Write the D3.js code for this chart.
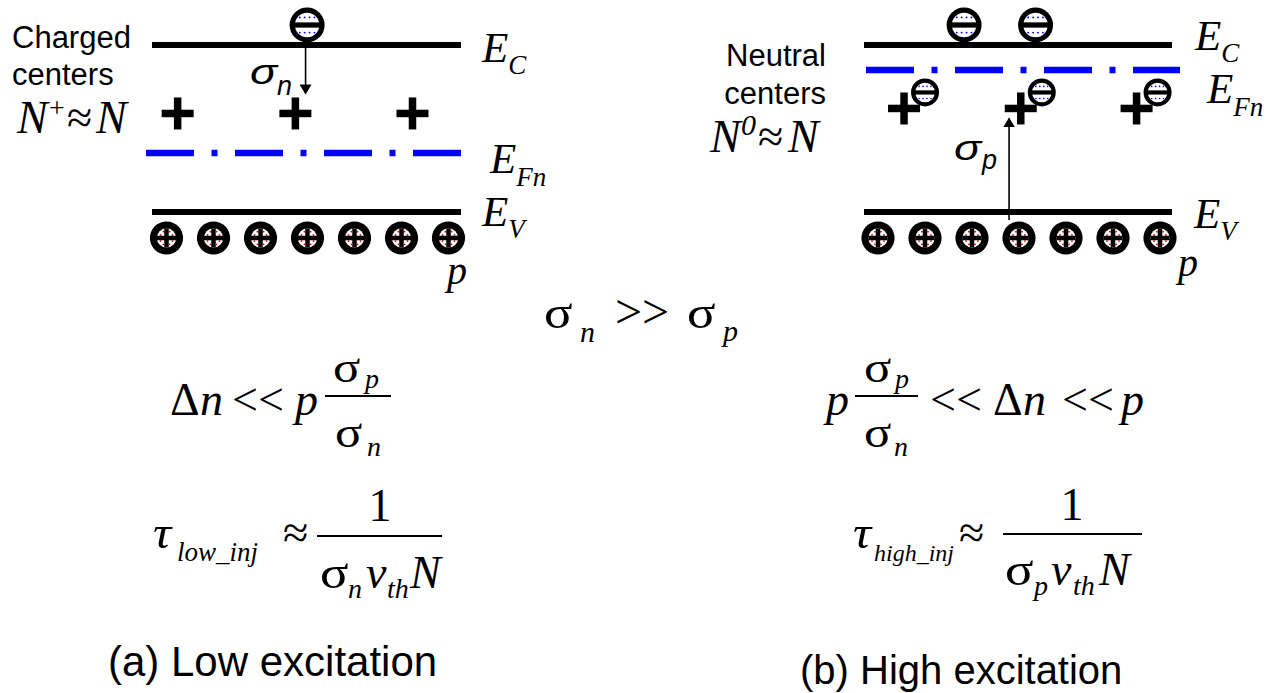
<!DOCTYPE html>
<html>
<head>
<meta charset="utf-8">
<script src="https://cdn.jsdelivr.net/npm/d3@7"></script>
<style>
  html, body { margin: 0; padding: 0; background: #fff; }
  svg { display: block; }
</style>
</head>
<body>
<svg id="fig" width="1279" height="693"></svg>
<script>
// ---- band-diagram values (energies in units of the gap: E_V = 0, E_C = 1) ----
const panelIds = ["a", "b"];
const conductionEnergy = [1, 1];
const valenceEnergy = [0, 0];
const quasiFermiEnergy = [0.353, 0.85];
const trapEnergy = [0.59, 0.62];
// positions along the band (0 = left end, 1 = right end)
const trapSites = [[0.083, 0.464, 0.843], [0.13, 0.509, 0.885]];
const freeElectronSites = [[0.502], [0.325, 0.557]];
const holeSites = [0, 1, 2, 3, 4, 5, 6];
const trapsFilled = [false, true];
const captureArrowSite = [0.497, 0.471];
const captureCarrier = ["n", "p"];
const centerLabel = [["Charged", "centers"], ["Neutral", "centers"]];
const centerOccupancy = ["+", "0"];
const captions = ["(a) Low excitation", "(b) High excitation"];

// ---- page layout ----
const SERIF = "'Liberation Serif', 'Times New Roman', serif";
const SANS = "'Liberation Sans', Arial, sans-serif";
const BLUE = "#0000ff";
const layout = [
  { band: [152, 461], fermi: [146, 461], yScale: [212, 45],
    holeInset: [14.5, 12.5],
    ecLabel: [482, 17], efLabel: [490, 20], evLabel: [482, 14], pLabel: [447, 72] },
  { band: [864, 1172], fermi: [866, 1180], yScale: [212, 45],
    holeInset: [14, 12],
    ecLabel: [1195, 5], efLabel: [1207, 33], evLabel: [1194, 16], pLabel: [1178, 64] }
];

const svg = d3.select("#fig");
svg.append("rect").attr("width", 1279).attr("height", 693).attr("fill", "#fff");

// ---- glyph helpers ----
function electron(g, cx, cy, r) {
  const ring = r * 0.3;
  const e = g.append("g").attr("transform", `translate(${cx},${cy})`);
  e.append("circle").attr("r", r - ring / 2).attr("fill", "#fff")
    .attr("stroke", "#000").attr("stroke-width", ring);
  const inner = r - ring;
  [-1, 1].forEach(sy => {
    [-0.6, -0.2, 0.2, 0.6].forEach(fx => {
      e.append("circle").attr("cx", fx * inner).attr("cy", sy * inner * 0.62)
        .attr("r", Math.max(0.8, r * 0.055)).attr("fill", BLUE);
    });
  });
  e.append("rect").attr("x", -inner - 0.5).attr("width", 2 * inner + 1)
    .attr("y", -ring / 2).attr("height", ring).attr("fill", "#000");
}

function hole(g, cx, cy, r) {
  const h = g.append("g").attr("transform", `translate(${cx},${cy})`);
  h.append("circle").attr("r", r).attr("fill", "#000");
  const inner = r * 0.58;
  h.append("circle").attr("r", inner).attr("fill", "#fff");
  [[-1, -1], [1, -1], [-1, 1], [1, 1]].forEach(([sx, sy]) => {
    h.append("circle").attr("cx", sx * inner * 0.62).attr("cy", sy * inner * 0.32)
      .attr("r", 0.9).attr("fill", "#e00000");
    h.append("circle").attr("cx", sx * inner * 0.32).attr("cy", sy * inner * 0.66)
      .attr("r", 0.9).attr("fill", "#e00000");
  });
  const bar = r * 0.27;
  h.append("rect").attr("x", -inner).attr("width", 2 * inner)
    .attr("y", -bar / 2).attr("height", bar).attr("fill", "#000");
  h.append("rect").attr("y", -inner).attr("height", 2 * inner)
    .attr("x", -bar / 2).attr("width", bar).attr("fill", "#000");
}

function plus(g, cx, cy, size, w) {
  g.append("rect").attr("x", cx - size / 2).attr("y", cy - w / 2)
    .attr("width", size).attr("height", w).attr("fill", "#000");
  g.append("rect").attr("x", cx - w / 2).attr("y", cy - size / 2)
    .attr("width", w).attr("height", size).attr("fill", "#000");
}

function txt(g, x, y, s, size, opts = {}) {
  return g.append("text").attr("x", x).attr("y", y).text(s)
    .attr("font-family", opts.family || SERIF)
    .attr("font-size", size)
    .attr("font-style", opts.italic ? "italic" : "normal")
    .attr("text-anchor", opts.anchor || "start")
    .attr("fill", "#000");
}

// Greek letter drawn a little wider, as in a symbol font, with an optional subscript
function greek(g, x, y, ch, size, sub, subSize, subDx, subDy, opts = {}) {
  g.append("text").attr("transform", `translate(${x},${y}) scale(${opts.sx || 1.15},1)`)
    .attr("font-family", opts.family || SERIF).attr("font-size", size)
    .attr("font-style", opts.italic ? "italic" : "normal").attr("fill", "#000").text(ch);
  if (sub) {
    txt(g, x + subDx, y + subDy, sub, subSize, { italic: true, family: opts.family });
  }
}

// arrow marker
const defs = svg.append("defs");
defs.append("marker").attr("id", "head")
  .attr("viewBox", "0 0 10 12").attr("refX", 9).attr("refY", 6)
  .attr("markerWidth", 10).attr("markerHeight", 12)
  .attr("markerUnits", "userSpaceOnUse").attr("orient", "auto")
  .append("path").attr("d", "M0,0 L10,6 L0,12 Z").attr("fill", "#000");

// ---- band diagrams ----
panelIds.forEach((id, i) => {
  const L = layout[i];
  const g = svg.append("g").attr("class", "panel-" + id);
  const x = d3.scaleLinear().domain([0, 1]).range(L.band);
  const y = d3.scaleLinear().domain([0, 1]).range(L.yScale);
  const xh = d3.scalePoint().domain(holeSites)
    .range([L.band[0] + L.holeInset[0], L.band[1] - L.holeInset[1]]);

  // conduction and valence band edges
  [conductionEnergy[i], valenceEnergy[i]].forEach(E => {
    g.append("line").attr("x1", x(0)).attr("x2", x(1))
      .attr("y1", y(E)).attr("y2", y(E))
      .attr("stroke", "#000").attr("stroke-width", 6);
  });

  // electron quasi-Fermi level
  g.append("line").attr("x1", L.fermi[0]).attr("x2", L.fermi[1])
    .attr("y1", y(quasiFermiEnergy[i])).attr("y2", y(quasiFermiEnergy[i]))
    .attr("stroke", BLUE).attr("stroke-width", 6.5)
    .attr("stroke-dasharray", "48,17.5,6,17.5");

  // capture arrow
  const yTrap = y(trapEnergy[i]);
  const ax = x(captureArrowSite[i]);
  if (captureCarrier[i] === "n") {
    g.append("line").attr("x1", ax).attr("x2", ax)
      .attr("y1", y(conductionEnergy[i]) + 3).attr("y2", yTrap - 20)
      .attr("stroke", "#000").attr("stroke-width", 1.6).attr("marker-end", "url(#head)");
  } else {
    g.append("line").attr("x1", ax).attr("x2", ax)
      .attr("y1", y(valenceEnergy[i]) + 8).attr("y2", yTrap + 10)
      .attr("stroke", "#000").attr("stroke-width", 1.6).attr("marker-end", "url(#head)");
  }

  // holes in the valence band
  holeSites.forEach(k => hole(g, xh(k), y(valenceEnergy[i]) + 26, 16.6));

  // recombination centres, with captured electrons when filled
  trapSites[i].forEach(s => {
    plus(g, x(s), yTrap, 32, 7.5);
    if (trapsFilled[i]) electron(g, x(s) + 21, yTrap - 16, 14);
  });

  // free electrons in the conduction band
  freeElectronSites[i].forEach(s => electron(g, x(s), y(conductionEnergy[i]) - 20, 17.5));

  // level labels
  const ec = txt(g, L.ecLabel[0], y(conductionEnergy[i]) + L.ecLabel[1], "E", 43, { italic: true });
  ec.append("tspan").attr("font-size", 27).attr("dy", 12).text("C");
  const ef = txt(g, L.efLabel[0], y(quasiFermiEnergy[i]) + L.efLabel[1], "E", 43, { italic: true });
  ef.append("tspan").attr("font-size", 27).attr("dy", 13).text("Fn");
  const ev = txt(g, L.evLabel[0], y(valenceEnergy[i]) + L.evLabel[1], "E", 43, { italic: true });
  ev.append("tspan").attr("font-size", 27).attr("dy", 12).text("V");
  txt(g, L.pLabel[0], y(valenceEnergy[i]) + L.pLabel[1], "p", 40, { italic: true });
});

// ---- capture cross-section labels on the arrows ----
(function () {
  const g = svg.append("g");
  greek(g, 250, 84, "σ", 36, captureCarrier[0], 27, 27, 11, { family: SANS, italic: true, sx: 1.25 });
  greek(g, 954, 160, "σ", 36, captureCarrier[1], 27, 28, 9, { family: SANS, italic: true, sx: 1.25 });
})();

// ---- centre occupancy labels ----
(function () {
  const g = svg.append("g");
  txt(g, 12, 48, centerLabel[0][0], 31, { family: SANS });
  txt(g, 12, 85, centerLabel[0][1], 31, { family: SANS });
  txt(g, 17, 133, "N", 46, { italic: true });
  txt(g, 49, 117, centerOccupancy[0], 28);
  txt(g, 67, 133, "≈", 46);
  txt(g, 96, 133, "N", 46, { italic: true });

  txt(g, 826, 66, centerLabel[1][0], 31, { family: SANS, anchor: "end" });
  txt(g, 826, 104, centerLabel[1][1], 31, { family: SANS, anchor: "end" });
  txt(g, 710, 152, "N", 46, { italic: true });
  txt(g, 741, 135, centerOccupancy[1], 30, { italic: true });
  txt(g, 758, 152, "≈", 46);
  txt(g, 788, 152, "N", 46, { italic: true });
})();

// ---- conditions and lifetimes ----
function fractionBar(g, x1, x2, yb) {
  g.append("line").attr("x1", x1).attr("x2", x2).attr("y1", yb).attr("y2", yb)
    .attr("stroke", "#000").attr("stroke-width", 2);
}

(function () {
  const g = svg.append("g");
  // sigma_n >> sigma_p
  greek(g, 544, 328, "σ", 46, "n", 30, 36, 14);
  txt(g, 615, 328, ">>", 48);
  greek(g, 687, 328, "σ", 46, "p", 30, 36, 13);

  // low-excitation condition
  txt(g, 170, 415, "Δ", 46);
  txt(g, 200, 415, "n", 46, { italic: true });
  txt(g, 232, 415, "<<", 46);
  txt(g, 295, 415, "p", 46, { italic: true });
  greek(g, 333, 382, "σ", 44, "p", 28, 32, 6);
  fractionBar(g, 325, 391, 396);
  greek(g, 335, 447, "σ", 44, "n", 28, 32, 9);

  // high-excitation condition
  txt(g, 826, 415, "p", 46, { italic: true });
  greek(g, 864, 382, "σ", 44, "p", 28, 31, 6);
  fractionBar(g, 855, 918, 396);
  greek(g, 864, 447, "σ", 44, "n", 28, 30, 9);
  txt(g, 930, 415, "<<", 46);
  txt(g, 993, 415, "Δ", 46);
  txt(g, 1023, 415, "n", 46, { italic: true });
  txt(g, 1062, 415, "<<", 46);
  txt(g, 1121, 415, "p", 46, { italic: true });

  // low-injection lifetime
  greek(g, 153, 548, "τ", 46, "low_inj", 27, 24, 13, { italic: true, sx: 1.1 });
  txt(g, 283, 548, "≈", 46);
  fractionBar(g, 317, 442, 536);
  txt(g, 380, 521, "1", 46, { anchor: "middle" });
  greek(g, 320, 588, "σ", 46, "n", 28, 28, 10);
  txt(g, 366, 588, "v", 46, { italic: true });
  txt(g, 387, 598, "th", 28, { italic: true });
  txt(g, 410, 588, "N", 46, { italic: true });

  // high-injection lifetime
  greek(g, 853, 548, "τ", 46, "high_inj", 24, 21, 13, { italic: true, sx: 1.1 });
  txt(g, 959, 548, "≈", 46);
  fractionBar(g, 1003, 1142, 534);
  txt(g, 1072, 520, "1", 46, { anchor: "middle" });
  greek(g, 1005, 585, "σ", 46, "p", 28, 29, 10);
  txt(g, 1051, 585, "v", 46, { italic: true });
  txt(g, 1073, 595, "th", 28, { italic: true });
  txt(g, 1099, 585, "N", 46, { italic: true });

  // panel captions
  txt(g, 108, 676, captions[0], 42, { family: SANS });
  txt(g, 800, 684, captions[1], 40, { family: SANS });
})();
</script>
</body>
</html>
